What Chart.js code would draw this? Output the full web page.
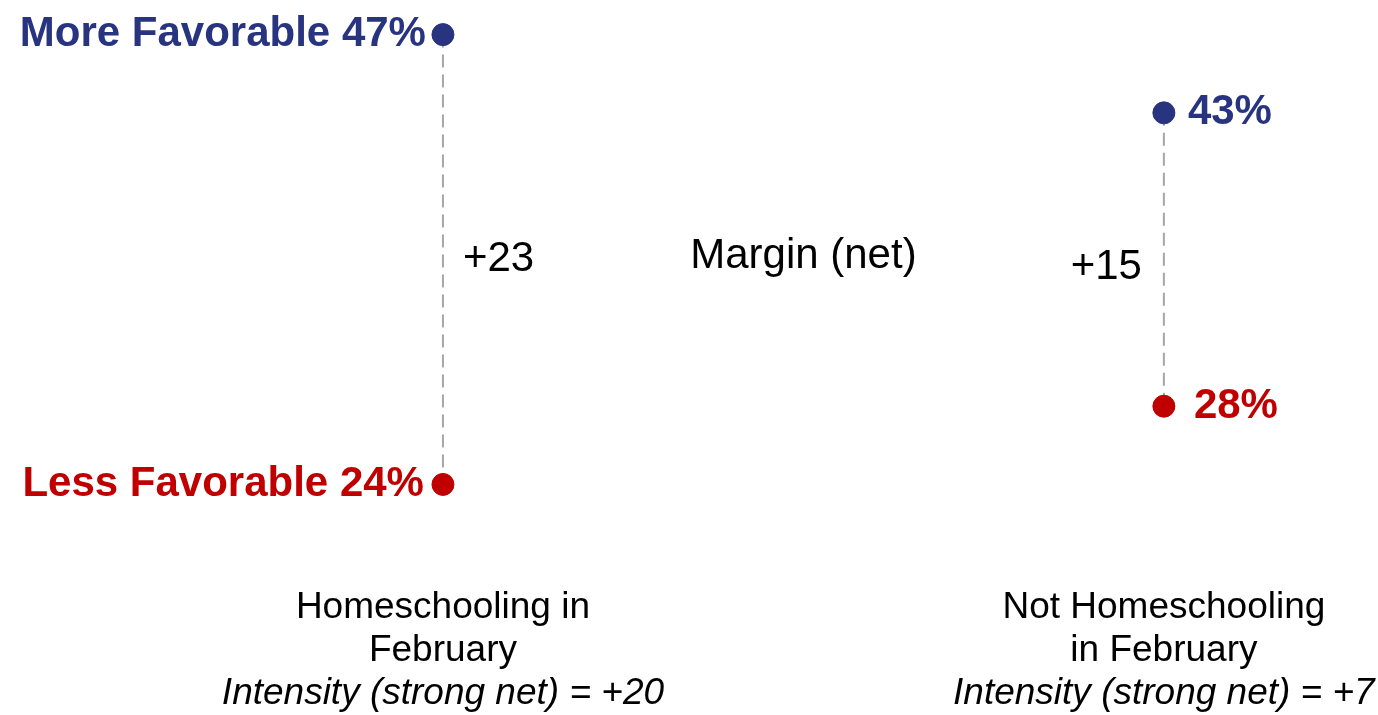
<!DOCTYPE html>
<html>
<head>
<meta charset="utf-8">
<script src="https://cdn.jsdelivr.net/npm/chart.js@4.4.1/dist/chart.umd.min.js"></script>
<style>
  html, body { margin: 0; padding: 0; background: #fff; }
  #wrap { width: 1378px; height: 715px; }
</style>
</head>
<body>
<div id="wrap"><canvas id="chart"></canvas></div>
<script>
// data
const categories = [["Homeschooling in", "February"], ["Not Homeschooling", "in February"]];
const intensity = ["+20", "+7"];
const moreFavorable = [47, 43];
const lessFavorable = [24, 28];
const margins = [23, 15];
const seriesNames = ["More Favorable", "Less Favorable"];

const BLUE = "#28347f";
const RED = "#c00000";
const FONT = "'Liberation Sans', Arial, sans-serif";

function pts(values) {
    return values.map((v, i) => ({ x: i, y: v }));
}

// one dashed connector per category
const connectors = categories.map((c, i) => ({
    type: "line",
    data: [{ x: i, y: moreFavorable[i] }, { x: i, y: lessFavorable[i] }],
    borderColor: "#a6a6a6",
    borderWidth: 2,
    borderDash: [13, 7],
    pointRadius: 0,
    order: 5
}));

const labelPlugin = {
    id: "labels",
    afterDatasetsDraw(chart) {
        const ctx = chart.ctx;
        const xs = chart.scales.x, ys = chart.scales.y;
        ctx.save();
        ctx.textBaseline = "middle";

        categories.forEach((cat, i) => {
            const x = xs.getPixelForValue(i);
            const yTop = ys.getPixelForValue(moreFavorable[i]);
            const yBot = ys.getPixelForValue(lessFavorable[i]);
            const yMid = ys.getPixelForValue((moreFavorable[i] + lessFavorable[i]) / 2);

            // value labels
            ctx.font = "bold 42px " + FONT;
            if (i === 0) {
                ctx.textAlign = "right";
                ctx.fillStyle = BLUE;
                ctx.fillText(seriesNames[0] + " " + moreFavorable[i] + "%", x - 17, yTop);
                ctx.fillStyle = RED;
                ctx.fillText(seriesNames[1] + " " + lessFavorable[i] + "%", x - 19, yBot);
            } else {
                ctx.textAlign = "left";
                ctx.fillStyle = BLUE;
                ctx.fillText(moreFavorable[i] + "%", x + 24, yTop);
                ctx.fillStyle = RED;
                ctx.fillText(lessFavorable[i] + "%", x + 30, yBot);
            }

            // margin
            ctx.font = "42px " + FONT;
            ctx.fillStyle = "#000";
            if (i === 0) {
                ctx.textAlign = "left";
                ctx.fillText("+" + margins[i], x + 20, yMid);
            } else {
                ctx.textAlign = "right";
                ctx.fillText("+" + margins[i], x - 22, yMid + 8);
            }

            // category labels under the chart
            ctx.textAlign = "center";
            ctx.font = "37px " + FONT;
            ctx.fillText(cat[0], x, 608);
            ctx.fillText(cat[1], x, 651);
            ctx.font = "italic 37px " + FONT;
            ctx.fillText("Intensity (strong net) = " + intensity[i], x, 694);
        });

        ctx.font = "42px " + FONT;
        ctx.textAlign = "center";
        ctx.fillStyle = "#000";
        ctx.fillText("Margin (net)", xs.getPixelForValue(0.5), 256);
        ctx.restore();
    }
};

new Chart(document.getElementById("chart"), {
    type: "scatter",
    data: {
        datasets: [
            {
                label: seriesNames[0],
                data: pts(moreFavorable),
                backgroundColor: BLUE,
                borderColor: BLUE,
                pointRadius: 11,
                order: 0
            },
            {
                label: seriesNames[1],
                data: pts(lessFavorable),
                backgroundColor: RED,
                borderColor: RED,
                pointRadius: 11,
                order: 0
            },
            ...connectors
        ]
    },
    options: {
        responsive: true,
        maintainAspectRatio: false,
        animation: false,
        layout: { padding: 0, autoPadding: false },
        plugins: {
            legend: { display: false },
            tooltip: { enabled: false }
        },
        scales: {
            x: { type: "linear", min: -0.6144, max: 1.297, display: false },
            y: { type: "linear", min: 12.21, max: 48.77, display: false }
        }
    },
    plugins: [labelPlugin]
});
</script>
</body>
</html>
